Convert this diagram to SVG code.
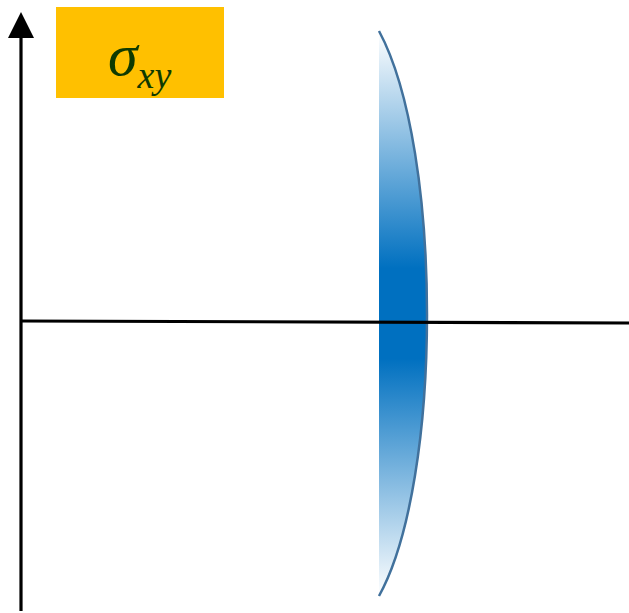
<svg xmlns="http://www.w3.org/2000/svg" width="629" height="613" viewBox="0 0 629 613">
<defs>
<linearGradient id="lg" x1="0" y1="0" x2="0" y2="1">
<stop offset="0" stop-color="#ffffff"/>
<stop offset="0.42" stop-color="#0070C0"/>
<stop offset="0.58" stop-color="#0070C0"/>
<stop offset="1" stop-color="#ffffff"/>
</linearGradient>
<style>.ax{stroke:#000;stroke-width:3.2;fill:none}</style>
</defs>
<g id="lens">
<path d="M379,31 C443,150 443,480 379,596 Z" fill="url(#lg)" stroke="none"/>
<path d="M379,31 C443,150 443,480 379,596" fill="none" stroke="#41719C" stroke-width="2.5"/>
</g>
<g id="label">
<rect x="56" y="7" width="168" height="91" fill="#FFC000"/>
<text x="108" y="75" font-family="Liberation Serif, serif" font-style="italic" font-size="60" fill="#0F3A00">σ<tspan font-size="38" dy="13">xy</tspan></text>
</g>
<g id="connectors">
<line class="ax" x1="21" y1="611" x2="21" y2="38"/>
<path d="M8,38 L21,12 L34,38 Z" fill="#000"/>
<line class="ax" x1="21" y1="321" x2="629" y2="323"/>
</g>
</svg>
